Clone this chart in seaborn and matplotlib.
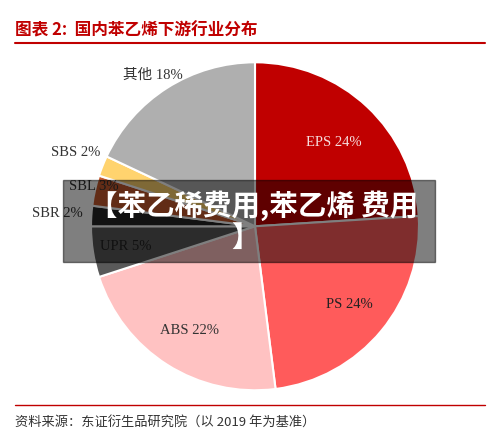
import matplotlib
matplotlib.use("Agg")
import matplotlib.pyplot as plt
import matplotlib.patches as mpatches
import numpy as np
import seaborn as sns

sns.set_theme(style="white")
plt.rcParams['font.family'] = ['Liberation Serif', 'Noto Sans CJK SC', 'DejaVu Sans']

categories = ['EPS', 'PS', 'ABS', 'UPR', 'SBR', 'SBL', 'SBS', '其他']
shares = [24, 24, 22, 5, 2, 3, 2, 18]
colors = ['#C00000', '#FF5B5B', '#FFC2C2', '#595959', '#262626', '#C55A2E', '#FFD36E', '#AFAFAF']
label_colors = ['#F5DCDC', '#222222', '#333333', '#222222', '#333333', '#333333', '#333333', '#333333']
# label placement: (radius, None) along wedge middle, or explicit outside anchor
label_pos = {
    'EPS': (0.7, None), 'PS': (0.75, None), 'ABS': (0.75, None), 'UPR': (0.8, None),
    'SBR': (None, (-1.05, 0.08)), 'SBL': (None, (-0.83, 0.24)),
    'SBS': (None, (-0.94, 0.45)), '其他': (None, (-0.62, 0.92)),
}

fig = plt.figure(figsize=(5, 4.45), dpi=100)
ax = fig.add_axes([0.18, 0.123, 0.66, 0.737])
wedges, _ = ax.pie(shares, colors=colors, startangle=90, counterclock=False,
                   wedgeprops=dict(edgecolor='white', linewidth=1.5))
ax.set_xlim(-1, 1)
ax.set_ylim(-1, 1)
ax.set_aspect('equal')

for w, name, val, lc in zip(wedges, categories, shares, label_colors):
    txt = f"{name} {val}%"
    r, anchor = label_pos[name]
    if anchor is None:
        ang = np.deg2rad((w.theta1 + w.theta2) / 2)
        ax.text(r * np.cos(ang), r * np.sin(ang), txt, ha='center', va='center',
                fontsize=10.5, color=lc, clip_on=False)
    else:
        ha = 'center' if name == '其他' else 'right'
        ax.text(anchor[0], anchor[1], txt, ha=ha, va='center',
                fontsize=10.5, color=lc, clip_on=False)

cjk = ['Noto Sans CJK SC', 'DejaVu Sans']
fig.text(0.03, 0.932, '图表 2:  国内苯乙烯下游行业分布', color='#C00000', fontsize=12,
         fontweight='bold', family=cjk, va='center')
fig.add_artist(plt.Line2D([0.03, 0.97], [0.903, 0.903], color='#C00000', lw=1.5))
fig.add_artist(plt.Line2D([0.03, 0.97], [0.09, 0.09], color='#C00000', lw=1))
fig.text(0.03, 0.052, '资料来源：东证衍生品研究院（以 2019 年为基准）', color='#333333', fontsize=9.5,
         family=cjk, va='center')

fig.add_artist(mpatches.Rectangle((0.126, 0.411), 0.744, 0.185, transform=fig.transFigure,
                                  color='black', alpha=0.5, zorder=5))
fig.text(0.178, 0.538, '【苯乙稀费用,苯乙烯 费用', color='white', fontsize=20.5, fontweight='heavy',
         family=cjk, zorder=6, va='center', ha='left')
fig.text(0.462, 0.465, '】', color='white', fontsize=20.5, fontweight='heavy',
         family=cjk, zorder=6, va='center')

fig.savefig('out.png', dpi=100)
